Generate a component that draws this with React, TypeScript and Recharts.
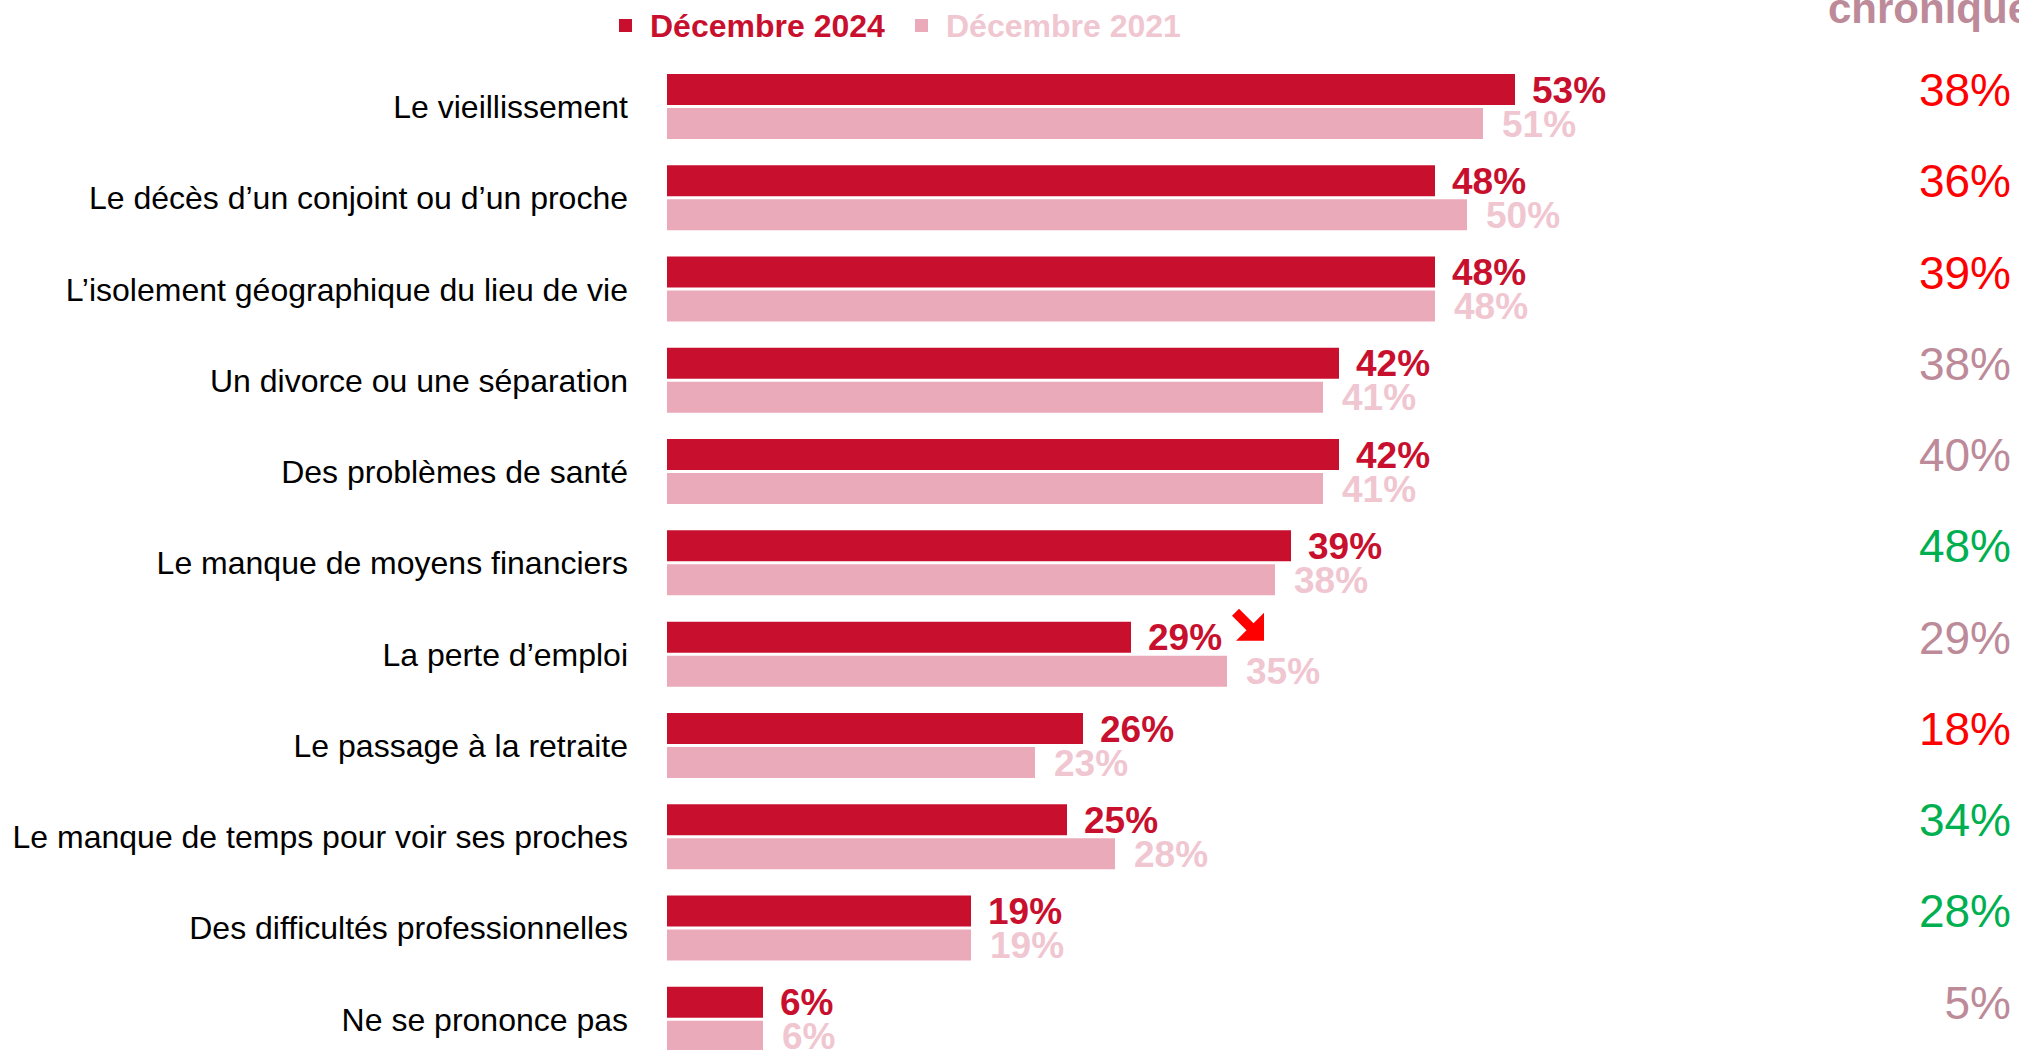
import React from 'react';
import { BarChart, Bar, XAxis, YAxis, LabelList } from 'recharts';

const categories = [
  'Le vieillissement',
  'Le décès d’un conjoint ou d’un proche',
  'L’isolement géographique du lieu de vie',
  'Un divorce ou une séparation',
  'Des problèmes de santé',
  'Le manque de moyens financiers',
  'La perte d’emploi',
  'Le passage à la retraite',
  'Le manque de temps pour voir ses proches',
  'Des difficultés professionnelles',
  'Ne se prononce pas',
];
const values2024 = [53, 48, 48, 42, 42, 39, 29, 26, 25, 19, 6];
const values2021 = [51, 50, 48, 41, 41, 38, 35, 23, 28, 19, 6];
const chronicValues = [38, 36, 39, 38, 40, 48, 29, 18, 34, 28, 5];
const chronicTrend = ['up', 'up', 'up', 'flat', 'flat', 'down', 'flat', 'up', 'down', 'down', 'flat'];
const trendArrows = ['', '', '', '', '', '', 'down', '', '', '', ''];
const seriesNames = ['Décembre 2024', 'Décembre 2021'];
const chronicHeader = 'chronique';

const FONT = '"Liberation Sans", Arial, sans-serif';
const C2024 = '#c8102e';
const C2021 = '#ebaab9';
const C2021_TEXT = '#f0c6d1';
const MAUVE = '#bc8a98';
const trendColor: Record<string, string> = { up: '#ff0000', flat: MAUVE, down: '#00b050' };

const data = categories.map((name, i) => ({ name, v2024: values2024[i], v2021: values2021[i] }));

const CategoryTick = (props: any) => {
  const { x, y, payload } = props;
  const i = categories.indexOf(payload.value);
  return (
    <g>
      <text x={x} y={y} dy="0.355em" textAnchor="end" fontSize={32} fill="#000" fontFamily={FONT}>
        {payload.value}
      </text>
      <text x={2011} y={y - 17} dy="0.355em" textAnchor="end" fontSize={46} fill={trendColor[chronicTrend[i]]} fontFamily={FONT}>
        {chronicValues[i]}%
      </text>
    </g>
  );
};

const getBox = (props: any) => {
  const vb = props.viewBox && props.viewBox.width !== undefined ? props.viewBox : props;
  return { x: Number(vb.x), y: Number(vb.y), width: Number(vb.width), height: Number(vb.height) };
};

const Label2024 = (props: any) => {
  const { x, y, width, height } = getBox(props);
  const idx = props.index;
  const xe = x + width;
  const cy = y + height / 2;
  return (
    <g>
      <text x={xe + 17} y={cy} dy="0.355em" fontSize={37} fontWeight="bold" fill={C2024} fontFamily={FONT}>
        {props.value}%
      </text>
      {trendArrows[idx] === 'down' && (
        <polygon
          transform={`translate(${xe + 101},${y - 13})`}
          points="7,0 21.5,14.5 32,4 32,32 4,32 14.5,21.5 0,7"
          fill="#ff0000"
        />
      )}
    </g>
  );
};

const Label2021 = (props: any) => {
  const { x, y, width, height } = getBox(props);
  const xe = x + width;
  const cy = y + height / 2;
  return (
    <text x={xe + 19} y={cy} dy="0.355em" fontSize={37} fontWeight="bold" fill={C2021_TEXT} fontFamily={FONT}>
      {props.value}%
    </text>
  );
};

export default function App() {
  return (
    <div style={{ position: 'absolute', left: 0, top: 0, width: 2019, height: 1050, overflow: 'hidden', background: '#fff' }}>
      <BarChart
        width={2019}
        height={1070}
        data={data}
        layout="vertical"
        margin={{ top: 61, right: 72, bottom: 5, left: 0 }}
        barSize={31}
        barGap={3}
      >
        <XAxis type="number" domain={[0, 80]} hide />
        <YAxis
          type="category"
          dataKey="name"
          width={667}
          axisLine={false}
          tickLine={false}
          tickSize={0}
          tickMargin={39}
          interval={0}
          tick={<CategoryTick />}
        />
        <Bar dataKey="v2024" name={seriesNames[0]} fill={C2024} isAnimationActive={false}>
          <LabelList dataKey="v2024" content={Label2024} />
        </Bar>
        <Bar dataKey="v2021" name={seriesNames[1]} fill={C2021} isAnimationActive={false}>
          <LabelList dataKey="v2021" content={Label2021} />
        </Bar>
      </BarChart>
      <svg width={2019} height={60} style={{ position: 'absolute', left: 0, top: 0, overflow: 'hidden' }}>
        <rect x={619} y={19} width={13} height={13} fill={C2024} />
        <text x={650} y={26} dy="0.355em" fontSize={32} fontWeight="bold" fill={C2024} fontFamily={FONT}>
          {seriesNames[0]}
        </text>
        <rect x={915} y={19} width={13} height={13} fill={C2021} />
        <text x={946} y={26} dy="0.355em" fontSize={32} fontWeight="bold" fill={C2021_TEXT} fontFamily={FONT}>
          {seriesNames[1]}
        </text>
        <text x={1828} y={23} fontSize={42} fontWeight="bold" fill={MAUVE} fontFamily={FONT}>
          {chronicHeader}
        </text>
      </svg>
    </div>
  );
}
